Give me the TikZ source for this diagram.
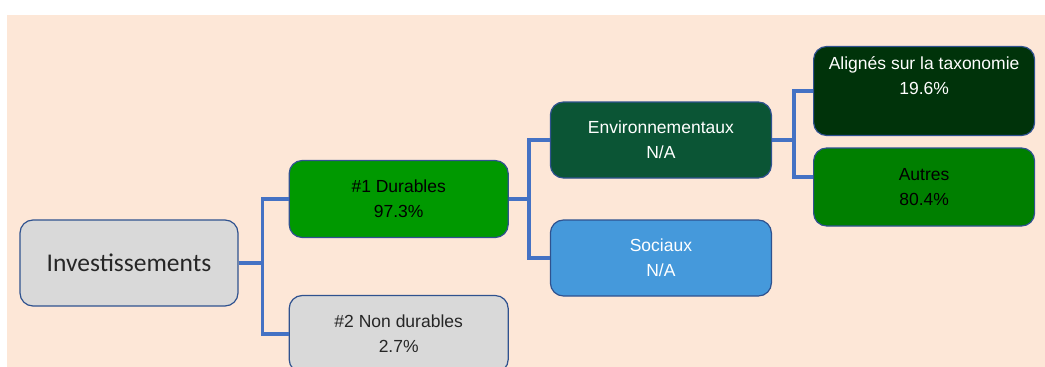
\documentclass[tikz,border=0pt]{standalone}
\usepackage{fontspec}
\setmainfont{Liberation Sans}
\newfontfamily\calibrifont{Carlito}
\usepackage{tikz}
\usetikzlibrary{positioning}

\definecolor{peach}{HTML}{FDE7D7}
\definecolor{edgeblue}{HTML}{2F528F}
\definecolor{linkblue}{HTML}{4472C4}
\definecolor{lightgray}{HTML}{D9D9D9}
\definecolor{durgreen}{HTML}{009900}
\definecolor{envgreen}{HTML}{0B5535}
\definecolor{socblue}{HTML}{4599DB}
\definecolor{aligreen}{HTML}{00330A}
\definecolor{autgreen}{HTML}{007F00}

\begin{document}
\begin{tikzpicture}[
    x=1pt, y=-1pt,
    node distance = 50pt,
    box/.style = {rectangle, rounded corners=13pt, draw=edgeblue, line width=1.2pt,
                  minimum width=219pt, minimum height=77pt, align=center,
                  font=\fontsize{17.5}{25}\selectfont},
    link/.style = {draw=linkblue, line width=3.4pt}
]

% Frame
\useasboundingbox (0,0) rectangle (1045,367);
\fill[peach] (7,15) rectangle (1045,367);

% Root
\node[box, fill=lightgray, minimum width=218pt, minimum height=86pt,
      font=\calibrifont\fontsize{25.5}{30}\selectfont, text=black!85] (inv) at (129,263) {Investissements};

% First level
\node[box, fill=durgreen, right=of inv, yshift=64pt] (dur) {\#1 Durables\\ 97.3\%};
\node[box, fill=lightgray, right=of inv, yshift=-71pt, text=black!85] (nondur) {\#2 Non durables\\ 2.7\%};

% Second level
\node[box, fill=envgreen, text=white, minimum width=221pt, minimum height=76pt,
      right=41pt of dur, yshift=59pt] (env) {Environnementaux\\ N/A};
\node[box, fill=socblue, text=white, minimum width=221pt, minimum height=76pt,
      right=41pt of dur, yshift=-59pt] (soc) {Sociaux\\ N/A};

% Third level
\node[box, fill=aligreen, text=white, minimum width=221pt, minimum height=89pt,
      right=41pt of env, yshift=49pt] (ali) {Alignés sur la taxonomie\\ 19.6\%\\[6pt]};
\node[box, fill=autgreen, minimum width=221pt, minimum height=78pt,
      right=41pt of env, yshift=-47pt] (aut) {Autres\\ 80.4\%};

% Links
\draw[link] (inv.east) -- ++(24,0) |- (dur.west);
\draw[link] (inv.east) -- ++(24,0) |- (nondur.west);
\draw[link] (dur.east) -- ++(20,0) |- (env.west);
\draw[link] (dur.east) -- ++(20,0) |- (soc.west);
\draw[link] (env.east) -- ++(22,0) |- (ali.west);
\draw[link] (env.east) -- ++(22,0) |- ([yshift=10pt]aut.west);

\end{tikzpicture}
\end{document}
